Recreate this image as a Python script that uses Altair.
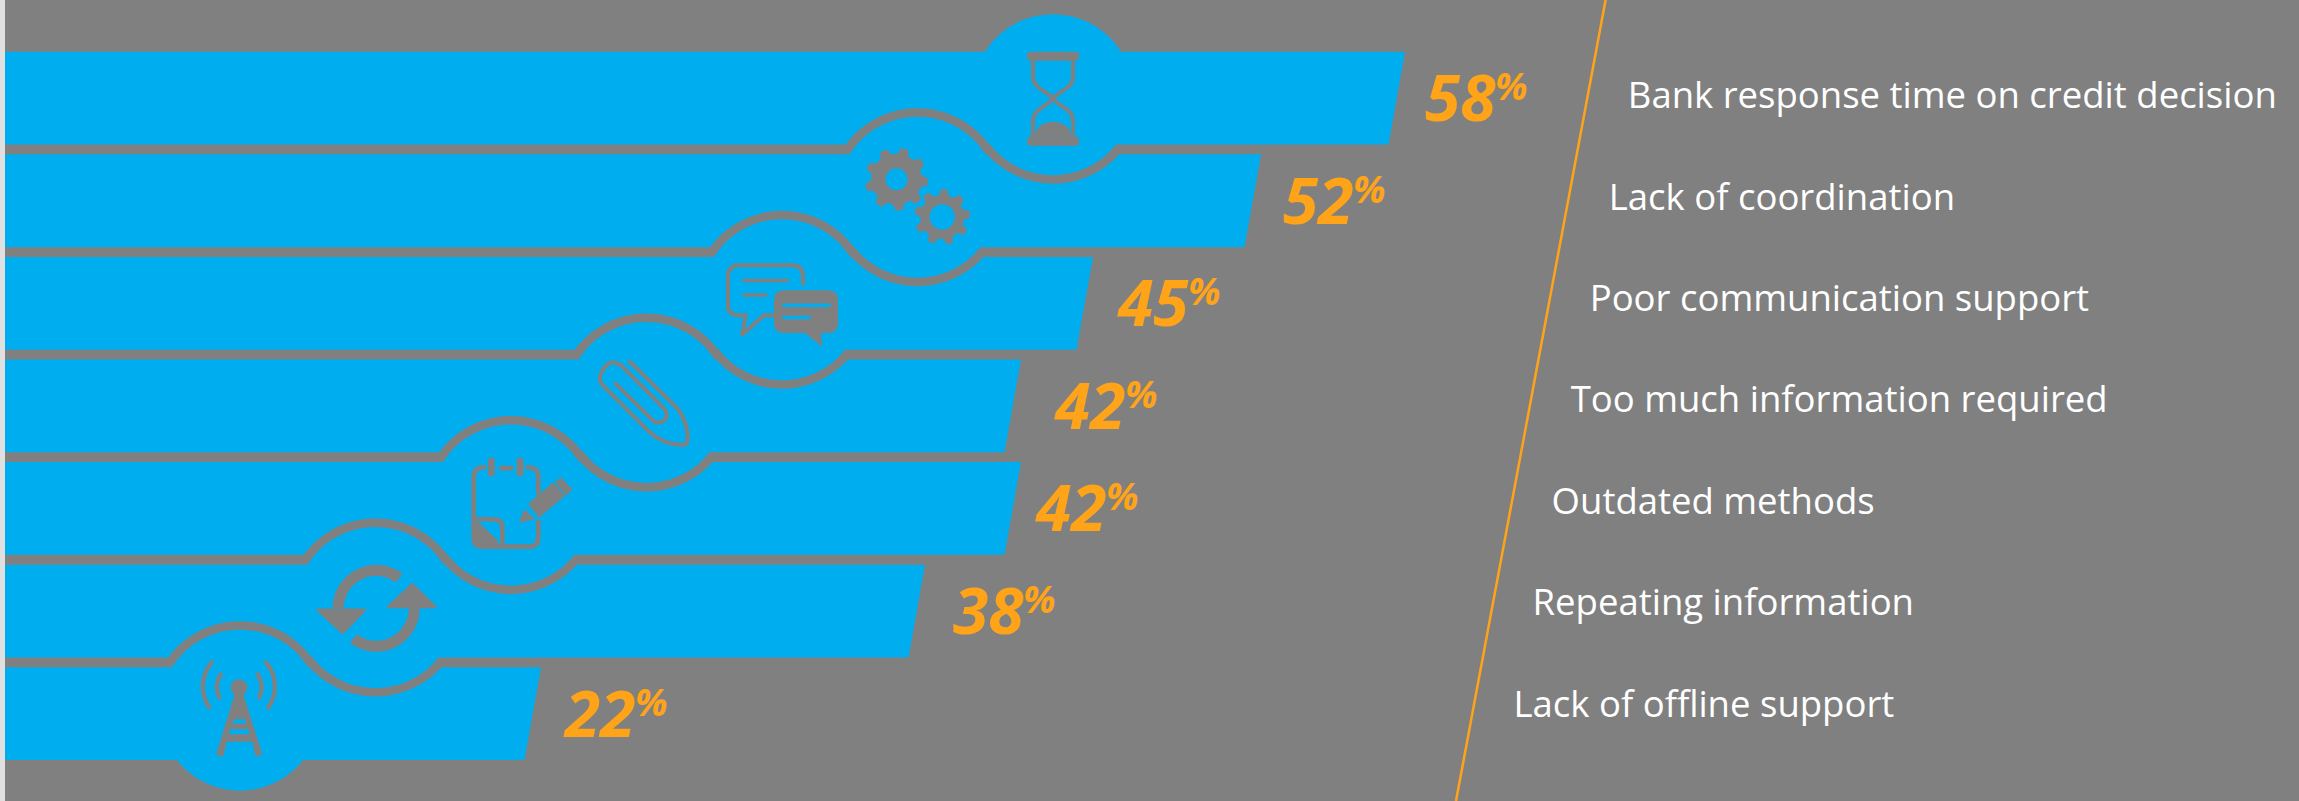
import math

import altair as alt
import pandas as pd

# Survey results, listed from the longest bar to the shortest
labels = [
    "Bank response time on credit decision",
    "Lack of coordination",
    "Poor communication support",
    "Too much information required",
    "Outdated methods",
    "Repeating information",
    "Lack of offline support",
]
values = [58, 52, 45, 42, 42, 38, 22]

BACKGROUND = "#808080"
BLUE = "#00AEEF"
ORANGE = "#FFA319"
WHITE = "#FFFFFF"
FONT = "Open Sans"

W, H = 2299, 801

# Pixel layout of the two scales: percent -> x, row number -> y
X0, PX_PER_PCT = 13.0, 24.0
Y0, PX_PER_ROW = 98.15, 102.58


def pct(px):
    return (px - X0) / PX_PER_PCT


def row(px):
    return (px - Y0) / PX_PER_ROW


x_scale = alt.Scale(domain=[pct(0), pct(W)], nice=False, zero=False)
y_scale = alt.Scale(domain=[row(H), row(0)], nice=False, zero=False)
X = lambda f: alt.X(f, scale=x_scale, axis=None, stack=None)
Y = lambda f: alt.Y(f, scale=y_scale, axis=None, stack=None)

BAR_HALF = 46.4 / PX_PER_ROW
SLANT = 16.5 / PX_PER_PCT
DISC_R = 80.5
RING_W = 8.5
DISC_RISE = 3.5 / PX_PER_ROW
DISC_STEP = 135.5
DISC_LAST_X = 240.0

bar_rows = []
for i, (lab, v) in enumerate(zip(labels, values)):
    bar_rows.append({"label": lab, "edge": i - BAR_HALF, "base": pct(0), "tip": v})
    bar_rows.append({"label": lab, "edge": i + BAR_HALF, "base": pct(0), "tip": v - SLANT})
bars = (
    alt.Chart(pd.DataFrame(bar_rows))
    .mark_area(orient="horizontal", color=BLUE, interpolate="linear")
    .encode(y=Y("edge:Q"), x=X("base:Q"), x2=alt.X2("tip"), detail="label:N")
)

disc_x = [pct(DISC_LAST_X + DISC_STEP * (6 - i)) for i in range(7)]
disc_y = [i - DISC_RISE for i in range(7)]
discs = (
    alt.Chart(pd.DataFrame({"x": disc_x, "y": disc_y}))
    .mark_circle(size=4 * DISC_R**2, color=BLUE, opacity=1)
    .encode(x=X("x:Q"), y=Y("y:Q"))
)


# Icon outlines, in pixels around the middle of each disc
def circle_path(cx, cy, r):
    return f"M{cx + r},{cy} A{r},{r} 0 1 0 {cx - r},{cy} A{r},{r} 0 1 0 {cx + r},{cy} Z"


def round_rect(x0, y0, x1, y1, r):
    return (
        f"M{x0 + r},{y0} H{x1 - r} Q{x1},{y0} {x1},{y0 + r} V{y1 - r} Q{x1},{y1} {x1 - r},{y1} "
        f"H{x0 + r} Q{x0},{y1} {x0},{y1 - r} V{y0 + r} Q{x0},{y0} {x0 + r},{y0} Z"
    )


def gear_path(cx, cy, teeth, r_root, r_tip, turn):
    pts = []
    step = 2 * math.pi / teeth
    for k in range(teeth):
        a = turn + k * step
        for off, r in [(-0.32, r_root), (-0.17, r_tip), (0.17, r_tip), (0.32, r_root)]:
            t = a + off * step
            pts.append((cx + r * math.sin(t), cy - r * math.cos(t)))
    return "M" + " L".join(f"{px:.2f},{py:.2f}" for px, py in pts) + " Z"


def ring_sector(cx, cy, r_in, r_out, a0, a1):
    a0, a1 = math.radians(a0), math.radians(a1)
    p = lambda r, a: f"{cx + r * math.sin(a):.2f},{cy - r * math.cos(a):.2f}"
    large = 1 if (a1 - a0) > math.pi else 0
    return (
        f"M{p(r_out, a0)} A{r_out},{r_out} 0 {large} 1 {p(r_out, a1)} "
        f"L{p(r_in, a1)} A{r_in},{r_in} 0 {large} 0 {p(r_in, a0)} Z"
    )


# Each part: (row, path, fill, stroke, stroke width)
G, B, N = BACKGROUND, BLUE, "transparent"
icon_parts = []

# Gray outlines: each disc is ringed over its top and bottom where it crosses a neighbour
for i in range(7):
    if i > 0:
        icon_parts.append((i, ring_sector(0, 0, DISC_R, DISC_R + RING_W, -57, 53), G, N, 0))
    if i < 6:
        icon_parts.append((i, ring_sector(0, 0, DISC_R, DISC_R + RING_W, 129, 233), G, N, 0))

icon_parts += [
    # hourglass
    (0, round_rect(-26, -43, 26, -34, 3.5), G, N, 0),
    (0, round_rect(-26, 42, 26, 51, 3.5), G, N, 0),
    (0, "M-20,-34 V-18 C-20,-6 -6,-4 0,4 C6,12 20,14 20,26 V42", N, G, 4),
    (0, "M20,-34 V-18 C20,-6 6,-4 0,4 C-6,12 -20,14 -20,26 V42", N, G, 4),
    (0, "M-18,42 C-18,32 -9,27 0,27 C9,27 18,32 18,42 Z", G, N, 0),
    # gears
    (1, gear_path(-21, -18, 9, 25.5, 31.5, math.radians(15)), G, N, 0),
    (1, circle_path(-21, -18, 11), B, N, 0),
    (1, gear_path(24.7, 19.7, 9, 22, 28, math.radians(4)), G, N, 0),
    (1, circle_path(24.7, 19.7, 12.7), B, N, 0),
    # speech bubbles
    (2, "M21,-16.2 V-22.8 Q21,-34.5 10.3,-34.5 H-43 Q-54,-34.5 -54,-22.8 V5.5 Q-54,15.5 -43,15.5 "
        "H-36.3 L-39.7,34.8 L-18,15.5 H-8", N, G, 4),
    (2, "M-38,-19.2 H5.3", N, G, 3.5),
    (2, "M-38,-4.8 H-16.3", N, G, 3.5),
    (2, round_rect(-8, -9.5, 56, 33.2, 10), G, N, 0),
    (2, "M22.7,33 L40.3,47.2 L38.7,33 Z", G, N, 0),
    (2, "M2,5.5 H47", N, B, 3.5),
    (2, "M2,17.8 H27", N, B, 3.5),
    # paper clip
    (3, "M-17,-41 L29.7,4.7 C38,14.7 42,28 41,38 C40.5,44 35,42.5 29.7,42 C20,41 10,36 3,29.7 "
        "L-43.7,-17 C-49,-23 -47,-29 -40.3,-37 C-36,-41 -30,-41 -23.7,-35.3 L16.3,4.7 "
        "C22,11 21,17 14.7,19.7 C11,21 8,20 6.3,18 L-31,-18.7", N, G, 4),
    # notepad and pencil
    (4, "M-27,-37.7 Q-37.3,-37.7 -37.3,-28.3 V32.3 Q-37.3,41.7 -28.7,41.7 H18.7 Q27.3,41.7 27.3,32.3 V16.7",
     N, G, 4.7),
    (4, "M27.3,-11.7 V-28.3 Q27.3,-37.7 16.3,-37.7", N, G, 4.7),
    (4, "M-19.7,-44 V-32", N, G, 7),
    (4, "M9,-44 V-32", N, G, 7),
    (4, "M-12,-39.3 H2 V-34.3 H-12 Z", G, N, 0),
    (4, "M-37.3,14.3 H-17 Q-8.7,14.3 -8.7,23.3 V39", N, G, 4.7),
    (4, "M-32,17.7 L-12.7,35.7 V41.7 H-37.3 V15 Z", G, N, 0),
    (4, "M17,-1 L42.3,-22.7 L54,-9.3 L28,12.7 Z", G, N, 0),
    (4, "M49.7,-27.7 L61.3,-15.7 L55.3,-9.3 L44,-22.7 Z", G, N, 0),
    (4, "M8,17.7 L13,4.3 L24,14 Z", G, N, 0),
    # refresh arrows
    (5, ring_sector(0.7, 0.8, 32.5, 43.5, 270, 397), G, N, 0),
    (5, ring_sector(0.7, 0.8, 32.5, 43.5, 90, 217), G, N, 0),
    (5, "M-57.5,2.5 H-11 L-32.7,25 Z", G, G, 3),
    (5, "M13,-0.8 H59.5 L36.7,-23 Z", G, G, 3),
    # signal tower
    (6, "M-5,-17 L3,-17 L21.7,42 Q22,46 18.5,46 L-20,46 Q-23.5,46 -23.3,42 Z", G, N, 0),
    (6, circle_path(-1, -22.7, 8.3), G, N, 0),
    (6, "M-6,9 L5,9 L6,13.3 L-7.3,13.3 Z", B, N, 0),
    (6, "M-10,19 L8.3,19 L9.3,24 L-11,24 Z", B, N, 0),
    (6, "M-13.3,31.7 L12.3,31.7 L15.7,47 L-16.7,47 Z", B, N, 0),
    (6, "M-28.3,-47.7 A37,37 0 0 0 -30.7,-2.7", N, G, 4.3),
    (6, "M-19.3,-35.7 A24,24 0 0 0 -20.7,-12.7", N, G, 4.3),
    (6, "M17.7,-35.7 A24,24 0 0 1 19.3,-12.7", N, G, 4.3),
    (6, "M26,-47.7 A37,37 0 0 1 28.3,-2.7", N, G, 4.3),
]
icons = pd.DataFrame(
    [
        {"x": disc_x[r], "y": disc_y[r], "path": p, "fill": f, "stroke": s, "sw": w, "seq": k}
        for k, (r, p, f, s, w) in enumerate(icon_parts)
    ]
)
icon_layer = (
    alt.Chart(icons)
    .mark_point(opacity=1, strokeCap="round", strokeJoin="round")
    .encode(
        x=X("x:Q"),
        y=Y("y:Q"),
        shape=alt.Shape("path:N", scale=None),
        size=alt.value(4),
        fill=alt.Fill("fill:N", scale=None),
        stroke=alt.Stroke("stroke:N", scale=None),
        strokeWidth=alt.StrokeWidth("sw:Q", scale=None),
        order="seq:Q",
    )
)

# Percent labels sit just right of each bar end
num_gap_px = [20, 22, 25, 34, 15, 28, 24]
NUM_BASE = 23.0 / PX_PER_ROW
PCT_BASE = 2.0 / PX_PER_ROW
NUM_WIDTH_PX = 70
number_df = pd.DataFrame(
    {
        "x": [v + g / PX_PER_PCT for v, g in zip(values, num_gap_px)],
        "y": [i + NUM_BASE for i in range(7)],
        "ypct": [i + PCT_BASE for i in range(7)],
        "xpct": [v + (g + NUM_WIDTH_PX) / PX_PER_PCT for v, g in zip(values, num_gap_px)],
        "text": [str(v) for v in values],
    }
)
numbers = (
    alt.Chart(number_df)
    .mark_text(
        font=FONT, fontSize=64, fontWeight="bold", fontStyle="italic",
        color=ORANGE, align="left", baseline="alphabetic",
    )
    .encode(x=X("x:Q"), y=Y("y:Q"), text="text:N")
)
percents = (
    alt.Chart(number_df)
    .mark_text(
        font=FONT, fontSize=38, fontWeight="bold", fontStyle="italic",
        color=ORANGE, align="left", baseline="alphabetic",
    )
    .encode(x=X("xpct:Q"), y=Y("ypct:Q"), text=alt.value("%"))
)

# Cause names run parallel to the orange divider
NAME_X_LAST = 1513.5
NAME_X_STEP = 19.05
NAME_PITCH = 101.4 / PX_PER_ROW
name_df = pd.DataFrame(
    {
        "x": [pct(NAME_X_LAST + NAME_X_STEP * (6 - i)) for i in range(7)],
        "y": [row(716.5) - NAME_PITCH * (6 - i) for i in range(7)],
        "text": labels,
    }
)
names = (
    alt.Chart(name_df)
    .mark_text(font=FONT, fontSize=36.5, color=WHITE, align="left", baseline="alphabetic")
    .encode(x=X("x:Q"), y=Y("y:Q"), text="text:N")
)

divider = (
    alt.Chart(pd.DataFrame({"x": [pct(1605.6), pct(1456)], "y": [row(0), row(H)]}))
    .mark_line(color=ORANGE, strokeWidth=2.5)
    .encode(x=X("x:Q"), y=Y("y:Q"), order="y:Q")
)

edge_strip = (
    alt.Chart(pd.DataFrame({"a": [0]}))
    .mark_rect(color="#E0E0E0")
    .encode(x=alt.value(0), x2=alt.value(5), y=alt.value(0), y2=alt.value(H))
)

chart = (
    alt.layer(bars, discs, icon_layer, numbers, percents, names, divider, edge_strip)
    .properties(width=W, height=H, background=BACKGROUND, padding=0, autosize=alt.AutoSizeParams(type="none"))
    .configure_view(stroke=None)
)
chart.save("out.html", embed_options={"renderer": "svg", "actions": False})
